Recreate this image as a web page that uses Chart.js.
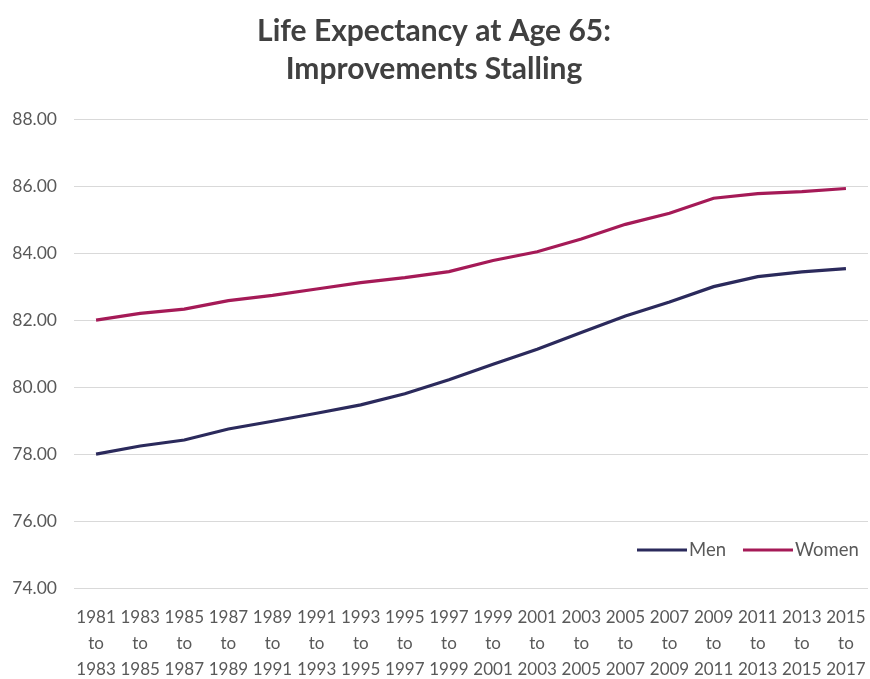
<!DOCTYPE html>
<html>
<head>
<meta charset="utf-8">
<script src="https://cdn.jsdelivr.net/npm/chart.js@4.4.1/dist/chart.umd.min.js"></script>
<style>
  html, body { margin: 0; padding: 0; background: #fff; }
  #wrap { width: 870px; height: 679px; position: relative; }
</style>
</head>
<body>
<div id="wrap"><canvas id="chart-life"></canvas></div>
<script>
// periods shown on the x axis, split into three lines like the original
const periodStarts = ["1981", "1983", "1985", "1987", "1989", "1991", "1993", "1995", "1997",
  "1999", "2001", "2003", "2005", "2007", "2009", "2011", "2013", "2015"];
const periodEnds = ["1983", "1985", "1987", "1989", "1991", "1993", "1995", "1997", "1999",
  "2001", "2003", "2005", "2007", "2009", "2011", "2013", "2015", "2017"];

// life expectancy at 65 (years)
const menValues = [78.00, 78.24, 78.42, 78.75, 78.98, 79.22, 79.47, 79.80, 80.22,
  80.68, 81.13, 81.63, 82.12, 82.54, 83.00, 83.30, 83.44, 83.54];
const womenValues = [82.00, 82.20, 82.33, 82.58, 82.74, 82.93, 83.12, 83.27, 83.45,
  83.78, 84.04, 84.42, 84.86, 85.19, 85.64, 85.78, 85.84, 85.93];

const yTicks = [74, 76, 78, 80, 82, 84, 86, 88];

(function () {
  const FONT = "Lato";
  const tickColor = "#595959";
  const labels = periodStarts.map((s, i) => [s, "to", periodEnds[i]]);

  // legend sits inside the plot, lower right, like the Excel original
  const insideLegend = {
    id: "insideLegend",
    afterDraw(chart) {
      const ctx = chart.ctx;
      const area = chart.chartArea;
      const y = area.bottom - 38;
      let x = area.right - 231;
      ctx.save();
      ctx.font = "18.5px " + FONT;
      ctx.textBaseline = "middle";
      chart.data.datasets.forEach((ds) => {
        ctx.strokeStyle = ds.borderColor;
        ctx.lineWidth = 3;
        ctx.beginPath();
        ctx.moveTo(x, y);
        ctx.lineTo(x + 50, y);
        ctx.stroke();
        ctx.fillStyle = tickColor;
        ctx.fillText(ds.label, x + 52, y);
        x += 52 + ctx.measureText(ds.label).width + 17;
      });
      ctx.restore();
    },
  };

  function drawChart() {
    if (typeof Chart === "undefined") return;
    const el = document.getElementById("chart-life");

    new Chart(el, {
      type: "line",
      data: {
        labels: labels,
        datasets: [
          {
            label: "Men",
            data: menValues,
            borderColor: "#2b2a5c",
            borderWidth: 3.2,
            pointRadius: 0,
            tension: 0,
          },
          {
            label: "Women",
            data: womenValues,
            borderColor: "#a51a57",
            borderWidth: 3.2,
            pointRadius: 0,
            tension: 0,
          },
        ],
      },
      options: {
        responsive: true,
        maintainAspectRatio: false,
        animation: false,
        layout: { padding: { left: 0, right: 2, top: 0, bottom: 0 } },
        plugins: {
          legend: { display: false },
          tooltip: { enabled: false },
          title: {
            display: true,
            text: ["Life Expectancy at Age 65:", "Improvements Stalling"],
            color: "#404040",
            font: { family: FONT, size: 30, weight: "bold", lineHeight: 1.27 },
            padding: { top: 12, bottom: 31 },
          },
        },
        scales: {
          x: {
            offset: true,
            grid: { display: false },
            border: { display: false },
            ticks: {
              color: tickColor,
              font: { family: FONT, size: 17, lineHeight: 1.55 },
              maxRotation: 0,
              minRotation: 0,
              autoSkip: false,
              padding: 8,
            },
            afterFit: (s) => {
              s.height = 91;
              s.paddingLeft = 0;
              s.paddingRight = 0;
            },
          },
          y: {
            min: 74,
            max: 88,
            grid: { color: "#d9d9d9", lineWidth: 1, drawTicks: false },
            border: { display: false },
            afterBuildTicks: (s) => { s.ticks = yTicks.map((v) => ({ value: v })); },
            ticks: {
              color: tickColor,
              font: { family: FONT, size: 17.5 },
              padding: 17,
              callback: (v) => Number(v).toFixed(2),
            },
            afterFit: (s) => { s.width = 74; },
          },
        },
      },
      plugins: [insideLegend],
    });
  }

  window.addEventListener("load", drawChart);
})();
</script>
</body>
</html>
